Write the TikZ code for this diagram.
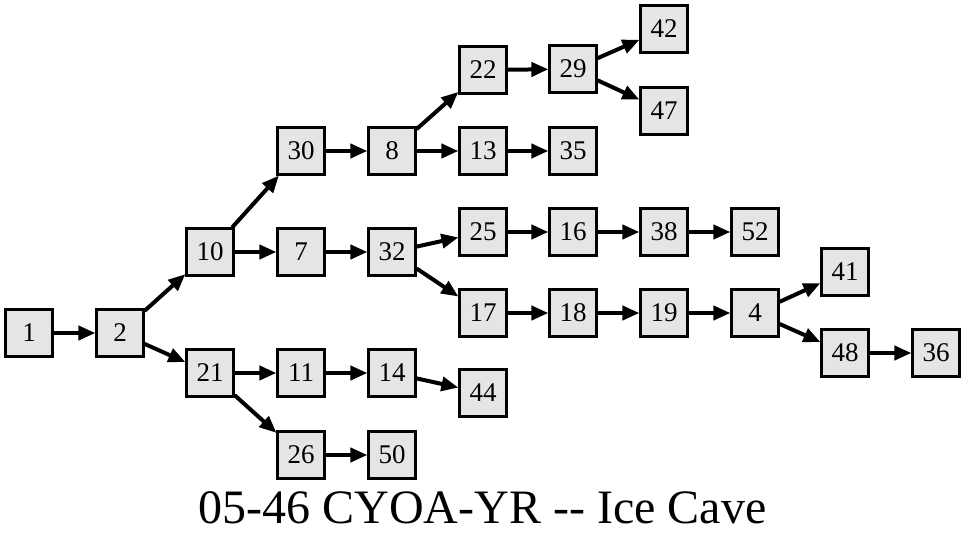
\documentclass[tikz,border=0pt]{standalone}
\usepackage{fontspec}
\setmainfont{Liberation Serif}
\usetikzlibrary{arrows.meta}
\begin{document}
\begin{tikzpicture}[x=1pt, y=-1pt,
  box/.style={shape=rectangle, draw=black, line width=2.2pt, fill=black!10, minimum size=47pt, inner sep=0pt, font=\fontsize{27}{32}\selectfont},
  arr/.style={-{Triangle[length=17pt,width=14pt]}, line width=4pt, draw=black}]
\useasboundingbox (0,0) rectangle (965,543);
\node[box] (1) at (29,333) {1};
\node[box] (2) at (120,333) {2};
\node[box] (10) at (210,252) {10};
\node[box] (21) at (210,373) {21};
\node[box] (30) at (301,151) {30};
\node[box] (7) at (301,252) {7};
\node[box] (11) at (301,373) {11};
\node[box] (26) at (301,455) {26};
\node[box] (8) at (392,151) {8};
\node[box] (32) at (392,252) {32};
\node[box] (14) at (392,373) {14};
\node[box] (50) at (392,455) {50};
\node[box] (22) at (483,70) {22};
\node[box] (13) at (483,151) {13};
\node[box] (25) at (483,232) {25};
\node[box] (17) at (483,313) {17};
\node[box] (44) at (483,393) {44};
\node[box] (29) at (573,69) {29};
\node[box] (35) at (573,151) {35};
\node[box] (16) at (573,232) {16};
\node[box] (18) at (573,313) {18};
\node[box] (42) at (664,29) {42};
\node[box] (47) at (664,111) {47};
\node[box] (38) at (664,232) {38};
\node[box] (19) at (664,313) {19};
\node[box] (52) at (755,232) {52};
\node[box] (4) at (755,313) {4};
\node[box] (41) at (845,272) {41};
\node[box] (48) at (845,353) {48};
\node[box] (36) at (936,353) {36};
\node[anchor=base, font=\fontsize{48}{58}\selectfont] (title) at (482.5,523) {05-46 CYOA-YR -{}- Ice Cave};
\path [arr] (1) edge (2);
\path [arr] (2) edge (10);
\path [arr] (2) edge (21);
\path [arr] (10) edge (30);
\path [arr] (10) edge (7);
\path [arr] (21) edge (11);
\path [arr] (21) edge (26);
\path [arr] (30) edge (8);
\path [arr] (7) edge (32);
\path [arr] (11) edge (14);
\path [arr] (26) edge (50);
\path [arr] (8) edge (22);
\path [arr] (8) edge (13);
\path [arr] (32) edge (25);
\path [arr] (32) edge (17);
\path [arr] (14) edge (44);
\path [arr] (22) edge (29);
\path [arr] (13) edge (35);
\path [arr] (25) edge (16);
\path [arr] (17) edge (18);
\path [arr] (29) edge (42);
\path [arr] (29) edge (47);
\path [arr] (16) edge (38);
\path [arr] (18) edge (19);
\path [arr] (38) edge (52);
\path [arr] (19) edge (4);
\path [arr] (4) edge (41);
\path [arr] (4) edge (48);
\path [arr] (48) edge (36);
\end{tikzpicture}
\end{document}
